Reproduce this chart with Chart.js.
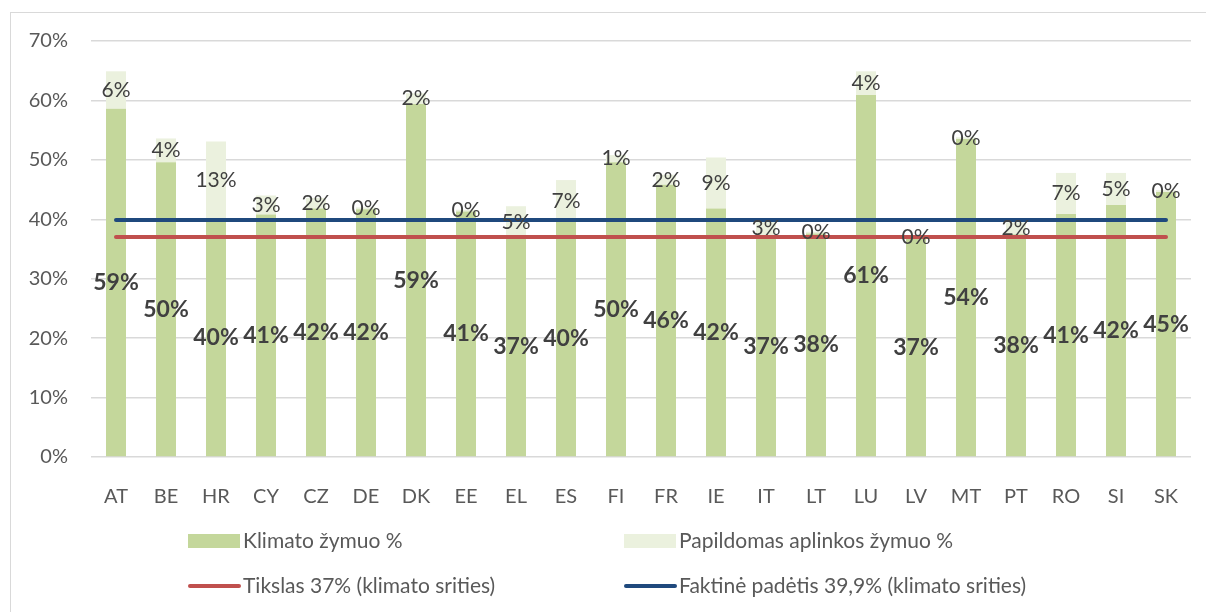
<!DOCTYPE html>
<html>
<head>
<meta charset="utf-8">
<script src="https://cdn.jsdelivr.net/npm/chart.js@4"></script>
<style>
  body { margin: 0; background: #fff; }
  #wrap { position: relative; width: 1206px; height: 612px; overflow: hidden; }
  #frame { position: absolute; left: 10px; top: 12px; width: 1220px; height: 620px; border: 1px solid #d9d9d9; box-sizing: border-box; pointer-events: none; }
</style>
</head>
<body>
<div id="wrap">
  <canvas id="myChart"></canvas>
  <div id="frame"></div>
</div>
<script>
var categories = ['AT','BE','HR','CY','CZ','DE','DK','EE','EL','ES','FI','FR','IE','IT','LT','LU','LV','MT','PT','RO','SI','SK'];
var klimato = [58.6,49.6,40.0,40.8,41.8,41.7,59.4,41.3,36.9,39.6,49.6,45.8,41.8,37.1,37.6,60.9,36.8,53.5,37.5,40.9,42.4,44.6];
var papildomas = [6.3,4.0,13.1,3.2,1.8,0.3,1.8,0.3,5.3,7.0,1.2,1.7,8.6,2.8,0.3,4.0,0.3,0.3,2.0,6.9,5.4,0.3];
var tikslas = 37;
var faktine = 39.9;
var yTicks = [0,10,20,30,40,50,60,70];

var FONT = 'Lato, "Open Sans", sans-serif';

// data labels: centred in each stacked segment
var barLabels = {
  id: 'barLabels',
  afterDatasetsDraw: function(chart) {
    var ctx = chart.ctx;
    ctx.save();
    ctx.textAlign = 'center';
    ctx.textBaseline = 'middle';
    ctx.fillStyle = '#404040';
    chart.data.datasets.forEach(function(ds, i) {
      if (ds.type !== 'bar') return;
      var meta = chart.getDatasetMeta(i);
      ctx.font = (ds.labelBold ? 'bold 23px ' : '21px ') + FONT;
      meta.data.forEach(function(el, j) {
        var y = (el.y + el.base) / 2;
        ctx.fillText(Math.round(ds.data[j]) + '%', el.x, y);
      });
    });
    ctx.restore();
  }
};

// two-column legend like the original
var gridLegend = {
  id: 'gridLegend',
  afterDraw: function(chart) {
    var ctx = chart.ctx;
    var slots = [[188, 541], [624, 541], [188, 586], [624, 586]];
    ctx.save();
    ctx.font = '21px ' + FONT;
    ctx.textBaseline = 'middle';
    chart.data.datasets.forEach(function(ds, i) {
      var x = slots[i][0], y = slots[i][1];
      if (ds.type === 'bar') {
        ctx.fillStyle = ds.backgroundColor;
        ctx.fillRect(x, y - 7, 52, 14);
      } else {
        ctx.strokeStyle = ds.borderColor;
        ctx.lineWidth = 4;
        ctx.lineCap = 'round';
        ctx.beginPath();
        ctx.moveTo(x + 2, y);
        ctx.lineTo(x + 51, y);
        ctx.stroke();
      }
      ctx.fillStyle = '#595959';
      ctx.fillText(ds.label, x + 55, y);
    });
    ctx.restore();
  }
};

new Chart('myChart', {
  type: 'bar',
  data: {
    labels: categories,
    datasets: [{
      type: 'bar',
      label: 'Klimato žymuo %',
      data: klimato,
      backgroundColor: '#c4d79b',
      stack: 'bars',
      labelBold: true,
      order: 2
    }, {
      type: 'bar',
      label: 'Papildomas aplinkos žymuo %',
      data: papildomas,
      backgroundColor: '#ebf1de',
      stack: 'bars',
      order: 2
    }, {
      type: 'line',
      label: 'Tikslas 37% (klimato srities)',
      data: categories.map(function(){ return tikslas; }),
      borderColor: '#c0504d',
      backgroundColor: '#c0504d',
      borderWidth: 4,
      borderCapStyle: 'round',
      pointRadius: 0,
      stack: 'target',
      fill: false,
      order: 1
    }, {
      type: 'line',
      label: 'Faktinė padėtis 39,9% (klimato srities)',
      data: categories.map(function(){ return faktine; }),
      borderColor: '#1f497d',
      backgroundColor: '#1f497d',
      borderWidth: 4,
      borderCapStyle: 'round',
      pointRadius: 0,
      stack: 'actual',
      fill: false,
      order: 0
    }]
  },
  options: {
    responsive: true,
    maintainAspectRatio: false,
    animation: false,
    layout: { padding: { left: 0, right: 15, top: 41, bottom: 95 } },
    datasets: { bar: { categoryPercentage: 1, barPercentage: 0.4 } },
    plugins: {
      legend: { display: false },
      tooltip: { enabled: false }
    },
    scales: {
      x: {
        stacked: true,
        grid: { display: false },
        border: { display: false },
        ticks: { color: '#595959', font: { family: FONT, size: 20 }, padding: 20, maxRotation: 0, autoSkip: false },
        afterFit: function(scale) { scale.height = 60; }
      },
      y: {
        stacked: true,
        min: 0,
        max: 70,
        afterBuildTicks: function(scale) { scale.ticks = yTicks.map(function(v){ return { value: v }; }); },
        grid: { color: '#d9d9d9', lineWidth: 1.5, drawTicks: false },
        border: { display: false },
        ticks: {
          color: '#595959',
          font: { family: FONT, size: 20 },
          padding: 23,
          callback: function(v) { return v + '%'; }
        },
        afterFit: function(scale) { scale.width = 91; }
      }
    }
  },
  plugins: [barLabels, gridLegend]
});
</script>
</body>
</html>
